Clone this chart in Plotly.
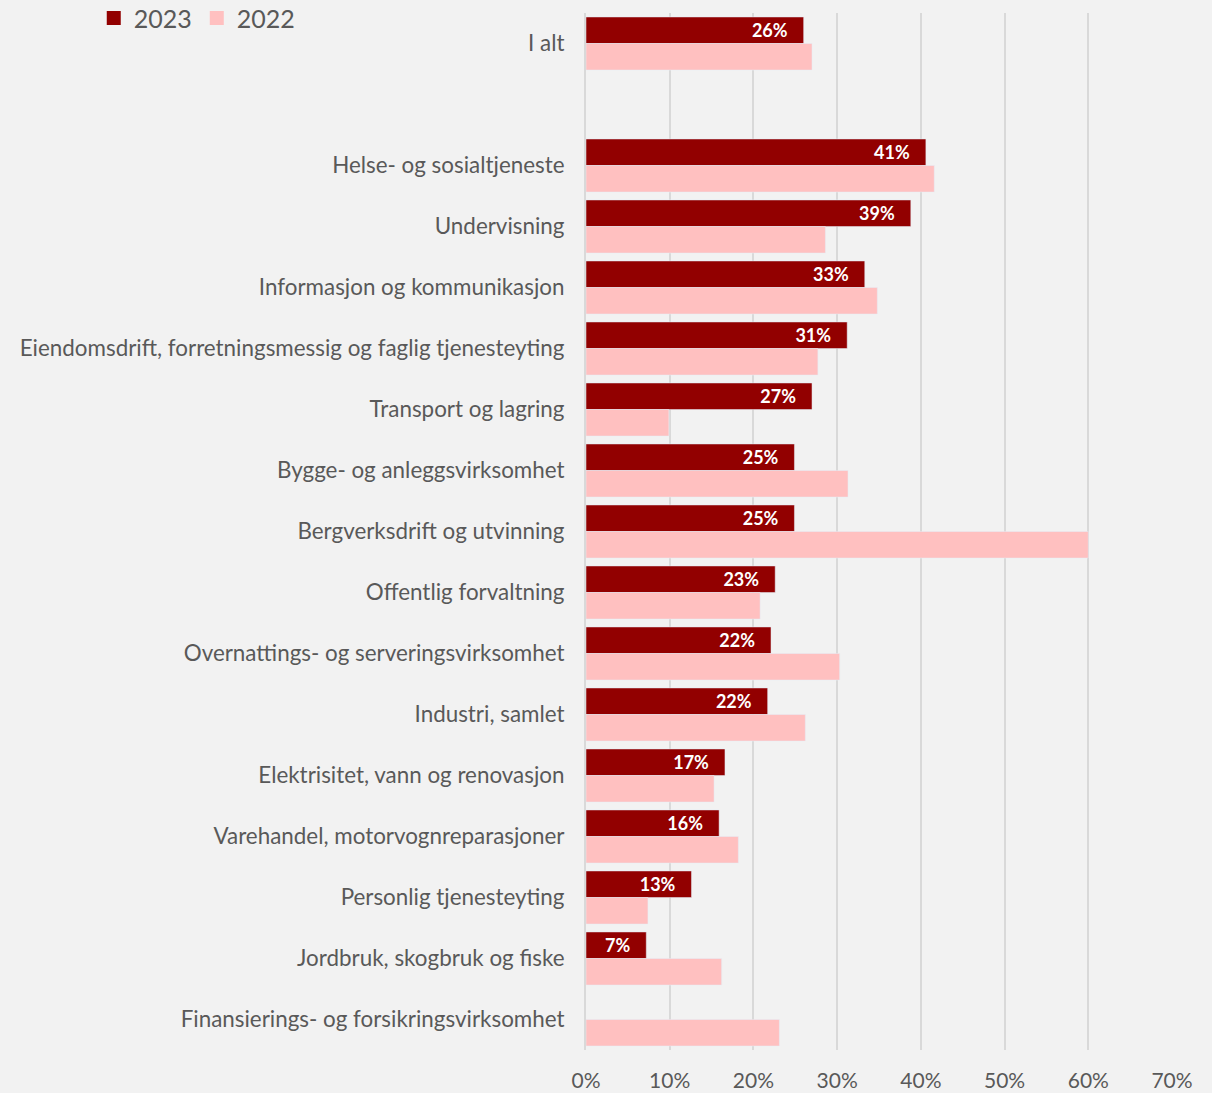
import plotly.graph_objects as go

categories = [
    "I alt", " ",
    "Helse- og sosialtjeneste",
    "Undervisning",
    "Informasjon og kommunikasjon",
    "Eiendomsdrift, forretningsmessig og faglig tjenesteyting",
    "Transport og lagring",
    "Bygge- og anleggsvirksomhet",
    "Bergverksdrift og utvinning",
    "Offentlig forvaltning",
    "Overnattings- og serveringsvirksomhet",
    "Industri, samlet",
    "Elektrisitet, vann og renovasjon",
    "Varehandel, motorvognreparasjoner",
    "Personlig tjenesteyting",
    "Jordbruk, skogbruk og fiske",
    "Finansierings- og forsikringsvirksomhet",
]
v2023 = [0.26, None, 0.406, 0.388, 0.333, 0.312, 0.27, 0.249, 0.249, 0.226,
         0.221, 0.217, 0.166, 0.159, 0.126, 0.072, None]
v2022 = [0.27, None, 0.416, 0.286, 0.348, 0.277, 0.099, 0.313, 0.60, 0.208,
         0.303, 0.262, 0.153, 0.182, 0.074, 0.162, 0.231]

FONT = "Lato"
GREY = "#595959"
RED = "#920000"
PINK = "#ffc0c0"
PAD = "\u00a0" * 3

fig = go.Figure()
fig.add_trace(go.Bar(
    y=categories, x=v2023, name="2023", orientation="h",
    marker=dict(color=RED), showlegend=False,
    text=[f"{v:.0%}{PAD}" if v is not None else "" for v in v2023],
    textposition="inside", insidetextanchor="end", constraintext="none",
    textfont=dict(color="white", size=18, family=FONT, weight="bold"),
))
fig.add_trace(go.Bar(
    y=categories, x=v2022, name="2022", orientation="h",
    marker=dict(color=PINK), showlegend=False,
))
# legend entries with bigger square symbols
for name, col in [("2023", RED), ("2022", PINK)]:
    fig.add_trace(go.Scatter(x=[None], y=[None], name=name, mode="markers",
                             marker=dict(symbol="square", size=14, color=col)))

fig.update_layout(
    width=1212, height=1093,
    barmode="group", bargap=0.13, bargroupgap=0,
    paper_bgcolor="#f2f2f2", plot_bgcolor="#f2f2f2",
    margin=dict(l=586, r=40, t=13, b=43, autoexpand=False),
    font=dict(family=FONT, color=GREY, size=22),
    legend=dict(orientation="h", x=-0.84, y=1.017, xanchor="left", yanchor="top",
                font=dict(size=25, color=GREY), bgcolor="rgba(0,0,0,0)",
                traceorder="normal", itemwidth=30, itemsizing="trace"),
)
fig.update_xaxes(range=[0, 0.7], dtick=0.1, tickformat=".0%",
                 showgrid=True, gridcolor="#d9d9d9", gridwidth=2,
                 zeroline=False, ticks="outside", ticklen=12,
                 tickcolor="rgba(0,0,0,0)", tickfont=dict(size=21))
fig.update_yaxes(autorange="reversed", showline=True, linecolor="#d9d9d9",
                 linewidth=2, ticks="outside", ticklen=15,
                 tickcolor="rgba(0,0,0,0)", tickfont=dict(size=22.4))

fig.write_html("out.html", config={"displayModeBar": False},
               post_script="document.body.style.margin='0';")
